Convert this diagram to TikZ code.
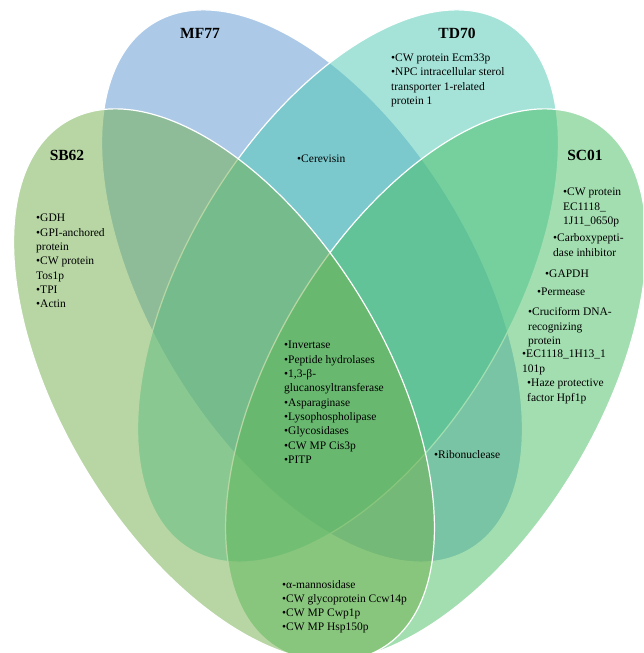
\documentclass[tikz,border=0pt]{standalone}
\usepackage{fontspec}
\setmainfont{Liberation Serif}
\usetikzlibrary{positioning}

\definecolor{mfblue}{RGB}{91,151,209}
\definecolor{tdteal}{RGB}{77,201,181}
\definecolor{scgreen}{RGB}{71,191,99}
\definecolor{sbgreen}{RGB}{113,175,75}
\newcommand{\bu}{•}

\begin{document}
\begin{tikzpicture}[x=1pt,y=1pt,
set/.style={draw=white,line width=1.2pt,fill opacity=0.5},
ttl/.style={font=\fontsize{15.5}{18}\selectfont\bfseries},
lst/.style={anchor=base west,align=left,inner sep=0pt,font=\fontsize{11.5}{14.3}\selectfont}]
\clip (0,0) rectangle (643,653);
\fill[white] (0,0) rectangle (643,653);
% the four sets, back to front
\draw[set,fill=mfblue,rotate around={-59:(312,367)}] (312,367) ellipse [x radius=307pt,y radius=162pt];
\draw[set,fill=tdteal,rotate around={59:(348,367)}] (348,367) ellipse [x radius=307pt,y radius=162pt];
\draw[set,fill=scgreen,rotate around={59:(436,268)}] (436,268) ellipse [x radius=307pt,y radius=162pt];
\draw[set,fill=sbgreen,rotate around={-59:(224,268)}] (224,268) ellipse [x radius=307pt,y radius=162pt];
% set names
\node[ttl] (mf) at (200,620) {MF77};
\node[ttl] (td) at (457,620) {TD70};
\node[ttl] (sb) at (67,498) {SB62};
\node[ttl] (sc) at (585,498) {SC01};
% proteins per region (base = last line)
\node[lst] (tdonly) at (391,548.6) {\bu CW protein Ecm33p\\\bu NPC intracellular sterol\\transporter 1-related\\protein 1};
\node[lst] (mftd) at (297,490) {\bu Cerevisin};
\node[lst] (sbonly) at (36,345.2) {\bu GDH\\\bu GPI-anchored\\protein\\\bu CW protein\\Tos1p\\\bu TPI\\\bu Actin};
\node[lst] (allfour) at (284,189.6) {\bu Invertase\\\bu Peptide hydrolases\\\bu 1,3-β-\\glucanosyltransferase\\\bu Asparaginase\\\bu Lysophospholipase\\\bu Glycosidases\\\bu CW MP Cis3p\\\bu PITP};
\node[lst] (mfsc) at (434,194) {\bu Ribonuclease};
\node[lst] (sbsc) at (282,22.1) {\bu α-mannosidase\\\bu CW glycoprotein Ccw14p\\\bu CW MP Cwp1p\\\bu CW MP Hsp150p};
% SC01 only
\node[lst] (sc1) at (563,428.4) {\bu CW protein\\EC1118\_\\1J11\_0650p};
\node[lst] (sc2) at (553,396.7) {\bu Carboxypepti-\\dase inhibitor};
\node[lst] (sc3) at (545,375) {\bu GAPDH};
\node[lst] (sc4) at (537,357) {\bu Permease};
\node[lst] (sc5) at (528,308.4) {\bu Cruciform DNA-\\recognizing\\protein};
\node[lst] (sc6) at (522,280.7) {\bu EC1118\_1H13\_1\\101p};
\node[lst] (sc7) at (527,251.7) {\bu Haze protective\\factor Hpf1p};
\end{tikzpicture}
\end{document}
